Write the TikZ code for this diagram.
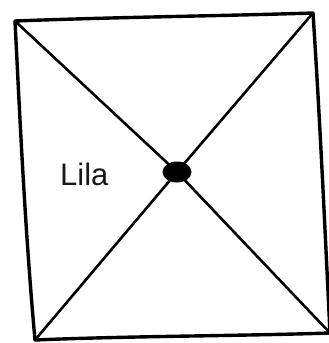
\documentclass[tikz,border=0pt]{standalone}
\usepackage{fontspec}
\setmainfont{Liberation Sans}
\usepackage{tikz}
\usetikzlibrary{positioning,shapes.geometric}

\begin{document}
\begin{tikzpicture}[x=1pt,y=-1pt,line cap=round,line join=round,
  frame/.style={draw=black,line width=3.4pt},
  diag/.style={draw=black,line width=2.6pt},
  hub/.style={ellipse,fill=black,minimum width=29pt,minimum height=21pt,inner sep=0pt},
  tag/.style={font=\fontsize{31}{34}\selectfont,text=black!90,inner sep=0pt}]
\useasboundingbox (0,0) rectangle (329,343);
% corners of the square
\coordinate (tl) at (15,21);
\coordinate (tr) at (313,13);
\coordinate (bl) at (35,340);
\coordinate (br) at (330,333);
% centre point and its label
\node[hub] (mid) at (177,172) {};
\node[tag,anchor=base west] (lila) at (60,185) {Lila};
% outline
\draw[frame] (tl) .. controls (120,17) and (220,16) .. (tr);
\draw[frame] (tr) .. controls (320,120) and (325,230) .. (br);
\draw[frame] (br) .. controls (240,336) and (130,336) .. (bl);
\draw[frame] (bl) .. controls (25,230) and (20,120) .. (tl);
% diagonals
\draw[diag] (tl) -- (mid.center) -- (br);
\draw[diag] (tr) -- (mid.center) -- (bl);
\end{tikzpicture}
\end{document}
